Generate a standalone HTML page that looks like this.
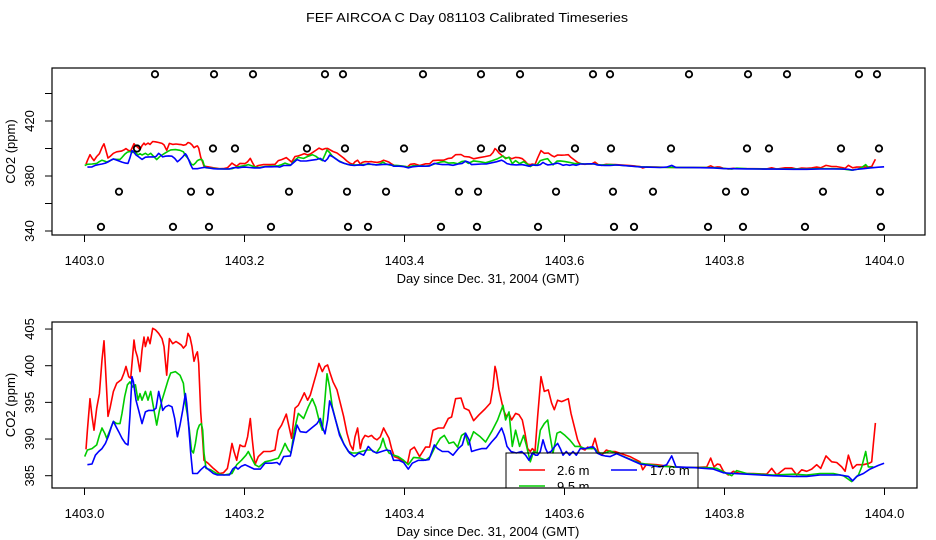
<!DOCTYPE html>
<html><head><meta charset="utf-8">
<style>
html,body{margin:0;padding:0;background:#fff;}
svg{display:block;font-family:"Liberation Sans",Arial,sans-serif;}
</style></head>
<body>
<svg id="chart" width="936" height="540" viewBox="0 0 936 540" xmlns="http://www.w3.org/2000/svg">
<rect width="936" height="540" fill="#fff"/>
<text x="467" y="22" font-size="13" text-anchor="middle" textLength="322" lengthAdjust="spacingAndGlyphs">FEF AIRCOA C  Day 081103  Calibrated Timeseries</text>
<defs>
<clipPath id="clipTop"><rect x="52" y="68" width="873" height="167"/></clipPath>
<clipPath id="clipBot"><rect x="52" y="322" width="865" height="166"/></clipPath>
</defs>
<g id="top"></g>
<g id="bot"></g>
</svg>
<script>
// day offsets in thousandths of a day after 1403.0
const redDays=[1.9,3.6,6.9,9.4,11.9,15.2,18.6,21.9,24.4,26.1,29.4,31.9,36.1,40.2,46.1,49.4,51.9,55.2,57.7,59.4,61.9,63.6,66.1,69.4,71.9,74.4,76.1,79.4,81.9,85.2,88.6,92.7,96.9,99.4,102.7,106.1,110.2,114.4,118.6,121.1,123.6,126.9,129.4,131.9,134.4,136.9,139.4,141.1,142.7,145.2,147.7,149.4,154.4,161.1,168.6,173.6,178.6,181.1,184.4,186.9,190.2,191.9,194.4,197.7,200.6,203.9,207.3,209.8,213.1,217.3,223.9,232.3,238.1,242.3,246.4,252.3,255.6,258.9,263.1,267.3,271.4,274.8,278.9,282.3,286.4,289.8,293.1,297.3,300.6,303.9,307.3,310.6,315.6,319.8,323.9,328.1,332.3,335.6,338.1,341.4,344.8,347.3,350.6,354.8,358.9,362.3,365.6,369.8,373.9,377.3,380.6,383.9,387.3,392.3,396.4,403.9,407.3,412.3,418.9,426.4,431.4,435.6,442.3,448.9,454.8,458.9,463.9,470.6,474.8,480.6,486.4,493.1,500.6,507.3,510.6,513.1,514.8,518.1,521.4,523.9,527.3,530.6,533.9,538.9,543.1,547.3,550.6,553.9,557.3,559.8,563.1,566.4,570.6,574.8,579.8,583.9,587.3,591.4,596.4,600.6,604.8,608.1,612.3,616.4,621.4,625.6,628.9,633.9,638.1,642.3,646.4,652.3,657.3,663.1,681.9,694.4,697.7,702.7,715.2,736.1,761.1,777.7,782.8,786.9,791.1,794.4,798.6,804.8,811.1,819.4,836.1,852.8,859.0,865.3,875.7,884.0,890.3,896.5,902.8,909.0,915.3,920.3,926.9,934.0,940.3,946.5,950.7,954.9,960.3,965.3,973.6,981.1,984.0,986.1,988.6];
const redVals=[388.6,391.2,395.5,393.1,391.2,394.2,396.2,400.8,403.4,399.9,393.1,394.2,396.5,397.6,398.1,399.0,399.9,398.5,398.3,400.3,403.5,402.1,401.2,399.2,402.1,403.9,402.6,403.9,403.0,405.1,404.9,404.4,403.7,402.6,398.7,403.7,403.0,403.3,403.0,402.8,402.4,402.8,404.4,403.9,402.6,400.6,401.5,401.9,400.3,393.7,389.9,387.1,386.7,386.0,385.3,385.4,386.0,387.4,389.4,388.3,387.1,388.0,389.2,389.0,389.0,390.3,392.8,389.9,386.5,387.6,388.3,388.3,388.5,391.2,391.9,393.4,391.7,390.1,394.2,394.6,395.5,396.3,395.3,396.0,397.6,398.9,400.3,399.2,399.9,400.1,398.9,397.8,396.7,394.9,393.1,390.8,389.2,388.5,390.3,391.5,388.7,389.9,390.5,390.3,390.5,390.1,389.9,390.3,391.5,390.8,390.1,388.7,387.6,387.4,387.1,386.7,388.5,388.9,387.6,388.9,388.9,391.2,391.5,391.5,392.8,393.0,395.5,395.6,394.2,393.9,392.5,393.3,394.1,394.9,397.1,399.9,399.2,396.7,395.1,393.9,393.1,393.5,392.6,393.5,393.3,392.6,390.8,388.7,388.3,388.7,388.3,393.0,398.5,396.5,396.7,394.9,394.0,395.3,395.1,395.3,395.5,393.5,391.7,389.9,388.7,388.5,388.9,388.7,390.1,388.3,387.8,388.5,388.3,388.3,387.6,386.9,385.8,386.6,386.5,386.2,386.1,386.2,387.4,386.2,386.6,386.5,385.6,385.1,385.6,385.3,385.3,385.2,386.0,385.1,386.0,386.0,385.1,385.8,385.6,385.9,386.5,386.0,387.7,386.9,386.8,386.2,385.6,387.8,386.0,386.5,386.5,386.7,386.9,389.4,392.2];
const greenDays=[0.2,3.6,9.4,15.2,18.6,21.9,25.2,27.7,31.9,36.1,40.2,44.4,46.9,50.2,53.6,56.9,60.2,63.6,66.9,69.4,71.9,76.1,79.4,82.7,86.1,90.2,93.6,96.9,100.2,104.4,107.7,113.6,119.4,123.6,126.1,128.6,131.1,133.6,136.1,138.6,141.1,143.6,146.1,147.7,149.4,151.9,157.7,165.2,174.4,180.2,184.4,190.2,196.1,201.9,204.8,208.9,213.1,218.1,225.6,233.9,242.3,246.4,250.6,254.8,258.1,262.3,267.3,273.9,279.8,284.8,289.0,293.1,297.3,300.6,303.1,306.4,309.8,313.9,318.1,323.9,329.8,334.8,340.6,346.4,353.1,358.9,364.8,369.8,373.1,376.4,380.6,386.4,392.3,398.9,404.8,411.4,419.8,426.4,432.3,438.1,444.8,449.8,455.6,461.4,466.4,471.4,475.6,479.8,486.4,494.8,501.4,508.9,516.4,523.1,526.4,530.6,534.8,538.9,543.9,548.9,552.3,557.3,561.4,565.6,569.8,574.8,579.0,581.4,585.6,590.6,594.8,600.6,606.4,613.1,618.9,625.6,632.3,638.1,642.3,650.6,656.9,665.2,694.4,719.4,752.8,777.7,790.3,802.8,809.0,815.3,827.8,844.4,861.1,886.1,902.8,919.4,936.1,948.6,959.0,967.4,971.5,976.5,979.8,986.1];
const greenVals=[387.6,388.5,388.7,389.2,390.5,391.5,390.8,390.1,391.2,392.4,392.1,392.1,393.5,395.8,397.4,397.8,397.1,397.4,395.3,396.2,395.3,396.5,395.3,396.5,394.4,391.9,393.9,395.3,396.5,398.0,399.0,399.2,398.7,397.6,394.9,393.3,391.2,388.5,388.1,389.4,391.2,391.9,392.1,391.2,388.1,386.0,385.8,385.3,385.1,385.2,385.3,386.5,387.1,387.8,388.3,387.4,386.5,386.2,386.9,387.1,387.4,388.3,389.4,388.5,388.1,391.2,393.5,392.8,394.4,395.5,394.4,392.6,391.2,395.5,398.9,397.1,394.4,392.6,391.0,389.4,388.3,388.1,388.1,388.3,388.5,388.5,388.1,388.9,390.1,388.9,388.1,387.8,387.6,387.1,386.5,387.5,387.4,387.1,387.6,388.9,390.1,390.5,389.4,389.6,388.9,390.5,390.8,389.2,391.0,390.3,389.6,391.0,392.6,394.6,392.6,393.7,389.0,391.2,389.0,390.5,389.2,386.9,388.3,388.1,391.2,392.1,392.6,390.8,388.1,390.8,391.0,390.5,389.9,389.0,389.0,388.7,388.7,388.7,388.1,388.1,388.4,388.0,386.7,386.3,386.1,386.1,386.0,385.3,385.0,385.7,385.3,385.2,385.1,385.2,385.1,385.3,385.3,385.0,384.2,385.1,386.2,388.3,386.2,386.2];
const blueDays=[3.6,9.4,13.6,17.7,21.9,26.1,30.2,33.6,36.1,39.4,42.7,46.9,51.1,54.4,56.9,59.4,61.1,64.4,67.7,71.9,76.1,80.2,86.1,89.4,92.7,95.2,97.7,101.1,105.2,109.4,112.7,116.1,119.4,122.7,126.1,127.7,130.2,132.7,135.2,141.1,145.2,150.2,155.2,161.1,166.1,173.6,181.1,185.2,188.6,191.9,196.1,200.6,206.4,212.3,219.8,225.6,233.9,240.6,243.9,248.9,257.3,260.6,265.6,269.8,277.3,283.9,290.6,294.8,297.3,300.6,303.9,306.4,309.8,313.9,318.9,324.8,331.4,337.3,343.1,348.9,354.8,360.6,365.6,371.4,377.3,382.3,386.4,393.1,398.9,404.8,409.8,417.3,423.9,430.6,437.3,441.4,447.3,454.8,460.6,467.3,472.3,476.4,480.6,483.9,489.8,496.4,502.3,508.9,514.8,521.4,524.8,528.1,533.1,539.8,546.4,551.4,555.6,559.8,563.9,566.4,569.8,573.1,576.4,579.0,583.1,587.3,591.4,594.8,598.1,602.3,606.4,610.6,614.8,619.8,625.6,632.3,636.4,640.6,646.4,650.6,656.9,665.2,694.4,719.4,727.7,734.0,739.4,761.1,786.1,798.6,811.1,827.8,844.4,861.1,886.1,902.8,919.4,944.4,954.9,960.3,965.3,973.6,981.9,992.4,999.5];
const blueVals=[386.5,386.6,387.8,388.3,388.7,389.4,390.5,391.7,392.4,391.7,391.0,390.1,389.4,389.2,393.3,398.5,397.8,395.3,393.9,392.1,393.7,393.9,393.9,394.2,396.5,395.3,393.9,394.4,394.6,394.4,392.8,390.3,391.9,393.9,396.2,394.9,391.7,388.1,385.3,385.3,385.8,386.3,385.8,385.3,385.1,385.1,385.1,385.9,386.2,385.9,386.3,386.5,386.2,385.9,385.9,386.7,386.7,386.8,386.5,387.6,387.7,389.4,391.9,391.0,390.9,391.5,392.1,392.8,391.7,390.7,392.6,395.2,394.2,392.6,390.5,389.2,388.1,387.6,388.1,387.8,389.0,388.3,388.1,388.3,388.5,388.4,387.1,387.1,386.8,385.9,386.7,387.1,387.1,387.2,389.2,388.7,388.3,388.3,387.8,388.7,389.2,390.8,389.9,388.3,388.5,388.7,388.7,389.6,390.3,391.5,390.5,389.0,388.3,388.1,388.3,387.8,387.1,388.1,387.8,387.8,388.3,389.9,388.7,388.1,388.3,388.9,389.4,388.7,387.8,388.3,387.8,388.3,387.8,388.7,388.7,388.9,388.9,388.1,387.8,387.7,387.6,388.0,386.6,386.2,386.5,387.7,386.2,386.1,385.9,385.4,385.3,385.2,385.1,385.0,384.9,384.9,385.1,385.1,384.9,384.3,384.9,385.3,385.9,386.4,386.7];
const xTicks=[1403.0,1403.2,1403.4,1403.6,1403.8,1404.0];
const xTickLabels=["1403.0","1403.2","1403.4","1403.6","1403.8","1404.0"];
const topYTicks=[340,360,380,400,420,440];
const topYLabels=["340","","380","","420",""];
const botYTicks=[385,390,395,400,405];
const botYLabels=["385","390","395","400","405"];
// status marker rows (ppm level) and day offsets
const markLevels=[454,400,368.6,343];
const markDays0=[88.1,161.9,210.6,300.6,323.1,423.1,495.6,544.4,635.6,656.9,755.6,829.4,878.1,968.1,990.6];
const markDays1=[65.6,160.6,188.1,278.1,325.6,399.4,495.6,521.9,613.1,658.1,733.1,828.1,855.6,945.6,993.1];
const markDays2=[43.1,133.1,156.9,255.6,328.1,376.9,468.1,491.9,589.4,660.6,710.6,801.9,825.6,923.1,994.4];
const markDays3=[20.6,110.6,155.6,233.1,329.4,354.4,445.6,490.6,566.9,661.9,686.9,779.4,823.1,900.6,995.6];
const seriesNames=["2.6 m","9.5 m","17.6 m"];

const NS="http://www.w3.org/2000/svg";
function mk(tag,attrs,parent){const e=document.createElementNS(NS,tag);for(const k in attrs)e.setAttribute(k,attrs[k]);parent.appendChild(e);return e;}
const xScale=d=>84.5+(d-1403)*800;
const xOff=o=>84.5+o*0.8;

function panel(g,box,yScale,yTicks,yLabels,clipId,pfx){
  const fr=mk('rect',{x:box.x,y:box.y,width:box.w,height:box.h,fill:'none',stroke:'#000','stroke-width':1.2},g);
  
  
  const xb=box.y+box.h;
  xTicks.forEach((t,i)=>{
    const x=xScale(t);
    const tk=mk('line',{x1:x,x2:x,y1:xb,y2:xb+7,stroke:'#000','stroke-width':1},g);
    
    
    const tl=mk('text',{x:x,y:xb+30,'font-size':13,'text-anchor':'middle'},g);
    tl.textContent=xTickLabels[i];
    
    
  });
  yTicks.forEach((t,i)=>{
    const y=yScale(t);
    const tk=mk('line',{x1:box.x-7,x2:box.x,y1:y,y2:y,stroke:'#000','stroke-width':1},g);
    
    
    if(yLabels[i]){
      const tl=mk('text',{x:0,y:0,'font-size':13,'text-anchor':'middle',transform:`translate(34,${y}) rotate(-90)`},g);
      tl.textContent=yLabels[i];
      
      
    }
  });
  const xt=mk('text',{x:488,y:xb+48,'font-size':13,'text-anchor':'middle'},g);
  xt.textContent="Day since Dec. 31, 2004 (GMT)";
  
  
  const yt=mk('text',{x:0,y:0,'font-size':13,'text-anchor':'middle',transform:`translate(15,${box.y+box.h/2}) rotate(-90)`},g);
  yt.textContent="CO2 (ppm)";
  
  
  const cg=mk('g',{'clip-path':`url(#${clipId})`},g);
  const S=[[redDays,redVals,'#ff0000','red'],[greenDays,greenVals,'#00cc00','green'],[blueDays,blueVals,'#0000ff','blue']];
  S.forEach(s=>{
    const pts=s[0].map((d,i)=>xOff(d).toFixed(1)+','+yScale(s[1][i]).toFixed(1)).join(' ');
    const pl=mk('polyline',{points:pts,fill:'none',stroke:s[2],'stroke-width':1.6,'stroke-linejoin':'round'},cg);
    
    
  });
  return cg;
}

const topG=document.getElementById('top');
const topY=v=>176-(v-380)*1.375;
panel(topG,{x:52,y:68,w:873,h:167},topY,topYTicks,topYLabels,'clipTop','top');
[markDays0,markDays1,markDays2,markDays3].forEach((arr,r)=>{
  arr.forEach(d=>{
    const c=mk('circle',{cx:xOff(d),cy:topY(markLevels[r]),r:3.2,fill:'none',stroke:'#000','stroke-width':1.8},topG);
    
    
  });
});

const botG=document.getElementById('bot');
const botY=v=>475.7-(v-385)*7.333;
const cg=panel(botG,{x:52,y:322,w:865,h:166},botY,botYTicks,botYLabels,'clipBot','bottom');
// legend (clipped to plot region)
const lg=mk('g',{},cg);


mk('rect',{x:506,y:453,width:192,height:50,fill:'none',stroke:'#000','stroke-width':1},lg);
const le=[[519,470,'#ff0000',557,0],[611,470,'#0000ff',650,2],[519,486,'#00cc00',557,1]];
le.forEach(e=>{
  const l=mk('line',{x1:e[0],x2:e[0]+26,y1:e[1],y2:e[1],stroke:e[2],'stroke-width':1.6},lg);
  
  
  const t=mk('text',{x:e[3],y:e[1]+5,'font-size':13},lg);
  t.textContent=seriesNames[e[4]];
  
  
});
</script>
</body></html>
